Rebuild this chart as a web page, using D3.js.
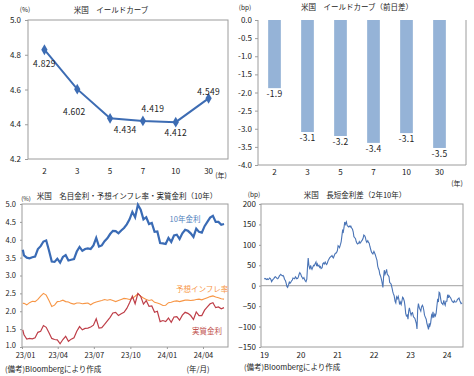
<!DOCTYPE html>
<html>
<head>
<meta charset="utf-8">
<script src="https://cdn.jsdelivr.net/npm/d3@7"></script>
<style>
  body { margin: 0; background: #fff; }
  text { font-family: "Noto Sans CJK JP", sans-serif; fill: #222; }
</style>
</head>
<body>
<script>
// yield curve (top left / top right)
const terms = ['2', '3', '5', '7', '10', '30']
const yieldLevel = [4.829, 4.602, 4.434, 4.419, 4.412, 4.549]
const yieldChange = [-1.88, -3.09, -3.2, -3.39, -3.12, -3.53]

// 10y nominal / breakeven / real, 2023/1/3 then weekly (fridays) to 2024/5/24
const nominal10 = [3.72,
  3.56, 3.50, 3.48, 3.51, 3.53, 3.74, 3.82, 3.95, 3.98, 3.70, 3.39, 3.38, 3.47,
  3.36, 3.52, 3.57, 3.42, 3.44, 3.46, 3.67, 3.80, 3.69, 3.74, 3.76, 3.74, 3.84,
  4.05, 3.81, 3.84, 3.96, 4.04, 4.16, 4.25, 4.24, 4.18, 4.26, 4.33, 4.43, 4.57,
  4.78, 4.63, 4.98, 4.84, 4.57, 4.63, 4.44, 4.47, 4.22, 4.23, 3.91, 3.90, 3.88,
  4.05, 3.94, 4.12, 4.14, 4.02, 4.18, 4.28, 4.25, 4.18, 4.08, 4.31, 4.22, 4.20,
  4.38, 4.50, 4.62, 4.67, 4.50, 4.50, 4.42, 4.44]
const breakeven10 = [2.22,
  2.22, 2.18, 2.24, 2.28, 2.27, 2.33, 2.42, 2.50, 2.45, 2.30, 2.13, 2.17, 2.27,
  2.28, 2.31, 2.27, 2.26, 2.22, 2.20, 2.23, 2.23, 2.21, 2.22, 2.23, 2.18, 2.23,
  2.26, 2.28, 2.30, 2.33, 2.31, 2.33, 2.30, 2.27, 2.30, 2.33, 2.36, 2.35, 2.33,
  2.36, 2.42, 2.49, 2.42, 2.37, 2.33, 2.30, 2.32, 2.25, 2.23, 2.20, 2.16, 2.17,
  2.24, 2.25, 2.28, 2.29, 2.27, 2.29, 2.31, 2.31, 2.30, 2.31, 2.33, 2.34, 2.32,
  2.35, 2.38, 2.41, 2.43, 2.40, 2.38, 2.35, 2.34]
const real10 = [1.48,
  1.34, 1.22, 1.24, 1.23, 1.26, 1.41, 1.44, 1.60, 1.55, 1.40, 1.24, 1.21, 1.20,
  1.09, 1.21, 1.30, 1.16, 1.22, 1.26, 1.44, 1.57, 1.48, 1.52, 1.53, 1.56, 1.61,
  1.79, 1.53, 1.54, 1.63, 1.73, 1.83, 1.95, 1.97, 1.88, 1.93, 1.97, 2.08, 2.24,
  2.42, 2.21, 2.50, 2.42, 2.20, 2.30, 2.14, 2.15, 1.97, 2.00, 1.71, 1.74, 1.71,
  1.81, 1.69, 1.84, 1.85, 1.75, 1.89, 1.97, 1.94, 1.88, 1.77, 1.98, 1.88, 1.88,
  2.03, 2.12, 2.21, 2.24, 2.10, 2.12, 2.07, 2.10]

// 2s10s spread (bp), four readings a month
const spread2019 = [16, 18, 17, 15, 17, 15, 16, 19, 18, 15, 10, 13, 16, 18, 21, 22,
  20, 18, 17, 19, 24, 26, 28, 26, 24, 25, 22, 16, 12, 6, -2, -4,
  3, 9, 6, 8, 12, 14, 19, 18, 17, 22, 20, 17, 18, 22, 28, 32]
const spread2020 = [28, 23, 20, 17, 20, 15, 12, 10, 16, 45, 68, 50, 40, 50, 44, 40,
  46, 50, 49, 53, 58, 48, 53, 48, 50, 45, 47, 42, 44, 54, 56, 53,
  58, 54, 52, 55, 62, 65, 68, 70, 72, 74, 70, 68, 74, 78, 80, 80]
const spread2021 = [86, 98, 96, 93, 101, 108, 122, 135, 132, 142, 156, 150, 156, 148, 146, 144,
  146, 144, 146, 142, 138, 132, 120, 118, 115, 108, 104, 102, 104, 108, 104, 106,
  110, 112, 116, 124, 122, 118, 110, 106, 110, 106, 104, 96, 88, 82, 80, 78]
const spread2022 = [84, 80, 76, 70, 62, 48, 42, 38, 28, 24, 18, 10, -4, 22, 38, 28,
  34, 40, 28, 26, 22, 8, 6, 4, -5, -14, -20, -24, -38, -42, -28, -32,
  -26, -34, -46, -40, -46, -38, -28, -30, -38, -50, -68, -74, -72, -82, -62, -54]
const spread2023 = [-66, -72, -67, -66, -76, -78, -80, -86, -92, -106, -58, -44, -55, -58, -62, -52,
  -48, -52, -60, -72, -78, -82, -92, -98, -107, -92, -98, -92, -72, -76, -64, -78,
  -70, -74, -68, -52, -32, -40, -16, -18, -34, -42, -44, -46, -36, -44, -48, -38]
const spread2024 = [-38, -22, -30, -24, -28, -30, -34, -38, -40, -41, -37, -40,
  -40, -38, -34, -32, -30, -36, -40, -44, -42]

const svg = d3.select('body').append('svg')
    .attr('width', 474)
    .attr('height', 376)

const frameColor = '#9c9c9c'
const fmt1 = d => d.toFixed(1)

function addText(g, x, y, str, size, anchor, color) {
    return g.append('text')
        .attr('x', x).attr('y', y)
        .attr('text-anchor', anchor || 'start')
        .style('font-size', size + 'px')
        .style('fill', color || '#222')
        .text(str)
}

function styleAxis(sel, size) {
    sel.select('.domain').remove()
    sel.selectAll('line').attr('stroke', frameColor)
    sel.selectAll('text').style('font-size', size + 'px').style('fill', '#222')
}

// ---------- panel 1: yield curve ----------
const g1 = svg.append('g')
const x1 = d3.scaleBand().domain(terms).range([28, 225])
const y1 = d3.scaleLinear().domain([4.2, 5.0]).range([159, 20])

g1.append('rect')
    .attr('x', 28).attr('y', 20).attr('width', 200).attr('height', 139)
    .attr('fill', 'none').attr('stroke', frameColor)

g1.append('g')
    .attr('transform', 'translate(28,0)')
    .call(d3.axisLeft(y1).tickValues([4.2, 4.4, 4.6, 4.8, 5.0]).tickFormat(fmt1).tickSize(3).tickPadding(4))
    .call(s => styleAxis(s, 8))

g1.append('g')
    .attr('transform', 'translate(0,159)')
    .call(d3.axisBottom(x1).tickSize(0).tickPadding(9))
    .call(s => styleAxis(s, 8))

const cx1 = (d, i) => x1(terms[i]) + x1.bandwidth() / 2
g1.append('path')
    .datum(yieldLevel)
    .attr('fill', 'none')
    .attr('stroke', '#3d6cb3')
    .attr('stroke-width', 2)
    .attr('d', d3.line().x(cx1).y(d => y1(d)))

g1.selectAll('.mk')
    .data(yieldLevel)
    .join('path')
    .attr('transform', (d, i) => `translate(${cx1(d, i)},${y1(d)})`)
    .attr('d', d3.symbol(d3.symbolDiamond, 34))
    .attr('fill', '#3d6cb3')

const labelShift = [[0, 17], [-3, 26], [15, 15], [10, -9], [0, 14], [0, -3]]
g1.selectAll('.lbl')
    .data(yieldLevel)
    .join('text')
    .attr('x', (d, i) => cx1(d, i) + labelShift[i][0])
    .attr('y', (d, i) => y1(d) + labelShift[i][1])
    .attr('text-anchor', 'middle')
    .style('font-size', '8.5px')
    .style('letter-spacing', '0.3px')
    .text(d => d.toFixed(3))

addText(g1, 111, 13, '米国　イールドカーブ', 7.5, 'middle')
addText(g1, 25, 12, '(%)', 6.5, 'middle')
addText(g1, 221, 178, '(年)', 7, 'middle')

// ---------- panel 2: daily change ----------
const g2 = svg.append('g')
const x2 = d3.scaleBand().domain(terms).range([258, 456])
const y2 = d3.scaleLinear().domain([-4, 0]).range([165, 20])

g2.append('path')
    .attr('d', 'M258,20V165H466V20')
    .attr('fill', 'none').attr('stroke', frameColor)

g2.append('g')
    .attr('transform', 'translate(258,0)')
    .call(d3.axisLeft(y2).tickValues(d3.range(-4, 0.01, 0.5)).tickFormat(fmt1).tickSize(3).tickPadding(3))
    .call(s => styleAxis(s, 8))

g2.append('g')
    .attr('transform', 'translate(0,165)')
    .call(d3.axisBottom(x2).tickSize(0).tickPadding(4))
    .call(s => styleAxis(s, 8))

const barW = 12.7
g2.selectAll('.bar')
    .data(yieldChange)
    .join('rect')
    .attr('x', (d, i) => x2(terms[i]) + x2.bandwidth() / 2 - barW / 2)
    .attr('y', y2(0))
    .attr('width', barW)
    .attr('height', d => y2(d) - y2(0))
    .attr('fill', '#95b3d7')

g2.selectAll('.blbl')
    .data(yieldChange)
    .join('text')
    .attr('x', (d, i) => x2(terms[i]) + x2.bandwidth() / 2)
    .attr('y', d => y2(d) + 9)
    .attr('text-anchor', 'middle')
    .style('font-size', '8.5px')
    .style('letter-spacing', '0.3px')
    .text(d => d.toFixed(1))

addText(g2, 357, 10, '米国　イールドカーブ（前日差）', 7.5, 'middle')
addText(g2, 245, 10, '(bp)', 6.5, 'middle')
addText(g2, 457, 186, '(年)', 7, 'middle')

// ---------- panel 3: nominal / breakeven / real ----------
const g3 = svg.append('g')
const weekDates = [new Date(2023, 0, 3)].concat(d3.timeFriday.range(new Date(2023, 0, 5), new Date(2024, 4, 25)))
const x3 = d3.scaleTime().domain([new Date(2023, 0, 1), new Date(2024, 5, 3)]).range([22, 228])
const y3 = d3.scaleLinear().domain([1, 5]).range([347, 204])

g3.append('rect')
    .attr('x', 22).attr('y', 204).attr('width', 206).attr('height', 143)
    .attr('fill', 'none').attr('stroke', frameColor)

g3.append('g')
    .attr('transform', 'translate(22,0)')
    .call(d3.axisLeft(y3).tickValues(d3.range(1, 5.01, 0.5)).tickFormat(fmt1).tickSize(2).tickPadding(4))
    .call(s => styleAxis(s, 7.5))
    .selectAll('text').attr('dy', (d, i) => i === 0 ? '0.1em' : '0.32em')

const qTicks = [new Date(2023, 0, 1), new Date(2023, 3, 1), new Date(2023, 6, 1),
    new Date(2023, 9, 1), new Date(2024, 0, 1), new Date(2024, 3, 1)]
g3.append('g')
    .attr('transform', 'translate(0,347)')
    .call(d3.axisBottom(x3).tickValues(qTicks).tickFormat(d3.timeFormat('%y/%m')).tickSize(2).tickPadding(4))
    .call(s => styleAxis(s, 7.5))
    .selectAll('text').attr('dx', (d, i) => i === 0 ? 3 : 0)

const line3 = d3.line()
    .x((d, i) => x3(weekDates[i]))
    .y(d => y3(d))

g3.append('path').datum(breakeven10)
    .attr('fill', 'none').attr('stroke', '#f79646').attr('stroke-width', 1.1)
    .attr('d', line3)
g3.append('path').datum(real10)
    .attr('fill', 'none').attr('stroke', '#be3e48').attr('stroke-width', 1.2)
    .attr('d', line3)
g3.append('path').datum(nominal10)
    .attr('fill', 'none').attr('stroke', '#3a6bb5').attr('stroke-width', 2.2)
    .attr('d', line3)

addText(g3, 185, 222, '10年金利', 7.5, 'middle', '#4f81bd')
addText(g3, 176, 292, '予想インフレ率', 7.5, 'start', '#f79646')
addText(g3, 207, 334, '実質金利', 7.5, 'middle', '#c0504d')
addText(g3, 127, 199, '米国　名目金利・予想インフレ率・実質金利（10年）', 7.5, 'middle')
addText(g3, 26, 201, '(%)', 6, 'middle')
addText(g3, 5, 372, '(備考)Bloombergにより作成', 7.5)
addText(g3, 198, 372, '(年/月)', 7.5, 'middle')

// ---------- panel 4: 2s10s ----------
const g4 = svg.append('g')
const spread = [spread2019, spread2020, spread2021, spread2022, spread2023, spread2024]
const spreadDates = []
spread.forEach((arr, yi) => {
    arr.forEach((v, k) => {
        spreadDates.push(new Date(2019 + yi, Math.floor(k / 4), 4 + 7 * (k % 4)))
    })
})
const spreadAll = spread.flat()
const x4 = d3.scaleTime().domain([new Date(2018, 11, 2), new Date(2024, 5, 13)]).range([261, 463])
const y4 = d3.scaleLinear().domain([-150, 200]).range([347, 204])

g4.append('rect')
    .attr('x', 261).attr('y', 204).attr('width', 202).attr('height', 143)
    .attr('fill', 'none').attr('stroke', frameColor)

g4.append('g')
    .attr('transform', 'translate(261,0)')
    .call(d3.axisLeft(y4).tickValues(d3.range(-150, 201, 50)).tickSize(2).tickPadding(3))
    .call(s => styleAxis(s, 8))

const yTicks = d3.range(2019, 2025).map(y => new Date(y, 0, 1))
g4.append('g')
    .attr('transform', 'translate(0,347)')
    .call(d3.axisBottom(x4).tickValues(yTicks).tickFormat(d3.timeFormat('%y')).tickSize(0).tickPadding(5))
    .call(s => styleAxis(s, 8))

g4.append('line')
    .attr('x1', 261).attr('x2', 463)
    .attr('y1', y4(0)).attr('y2', y4(0))
    .attr('stroke', '#a0a0a0')

g4.append('path').datum(spreadAll)
    .attr('fill', 'none').attr('stroke', '#4a74b6').attr('stroke-width', 1.1)
    .attr('d', d3.line().x((d, i) => x4(spreadDates[i])).y(d => y4(d)))

addText(g4, 355, 198, '米国　長短金利差（2年10年）', 7.5, 'middle')
addText(g4, 254, 197, '(bp)', 6.5, 'middle')
addText(g4, 244, 370, '(備考)Bloombergにより作成', 7.5)
</script>
</body>
</html>
